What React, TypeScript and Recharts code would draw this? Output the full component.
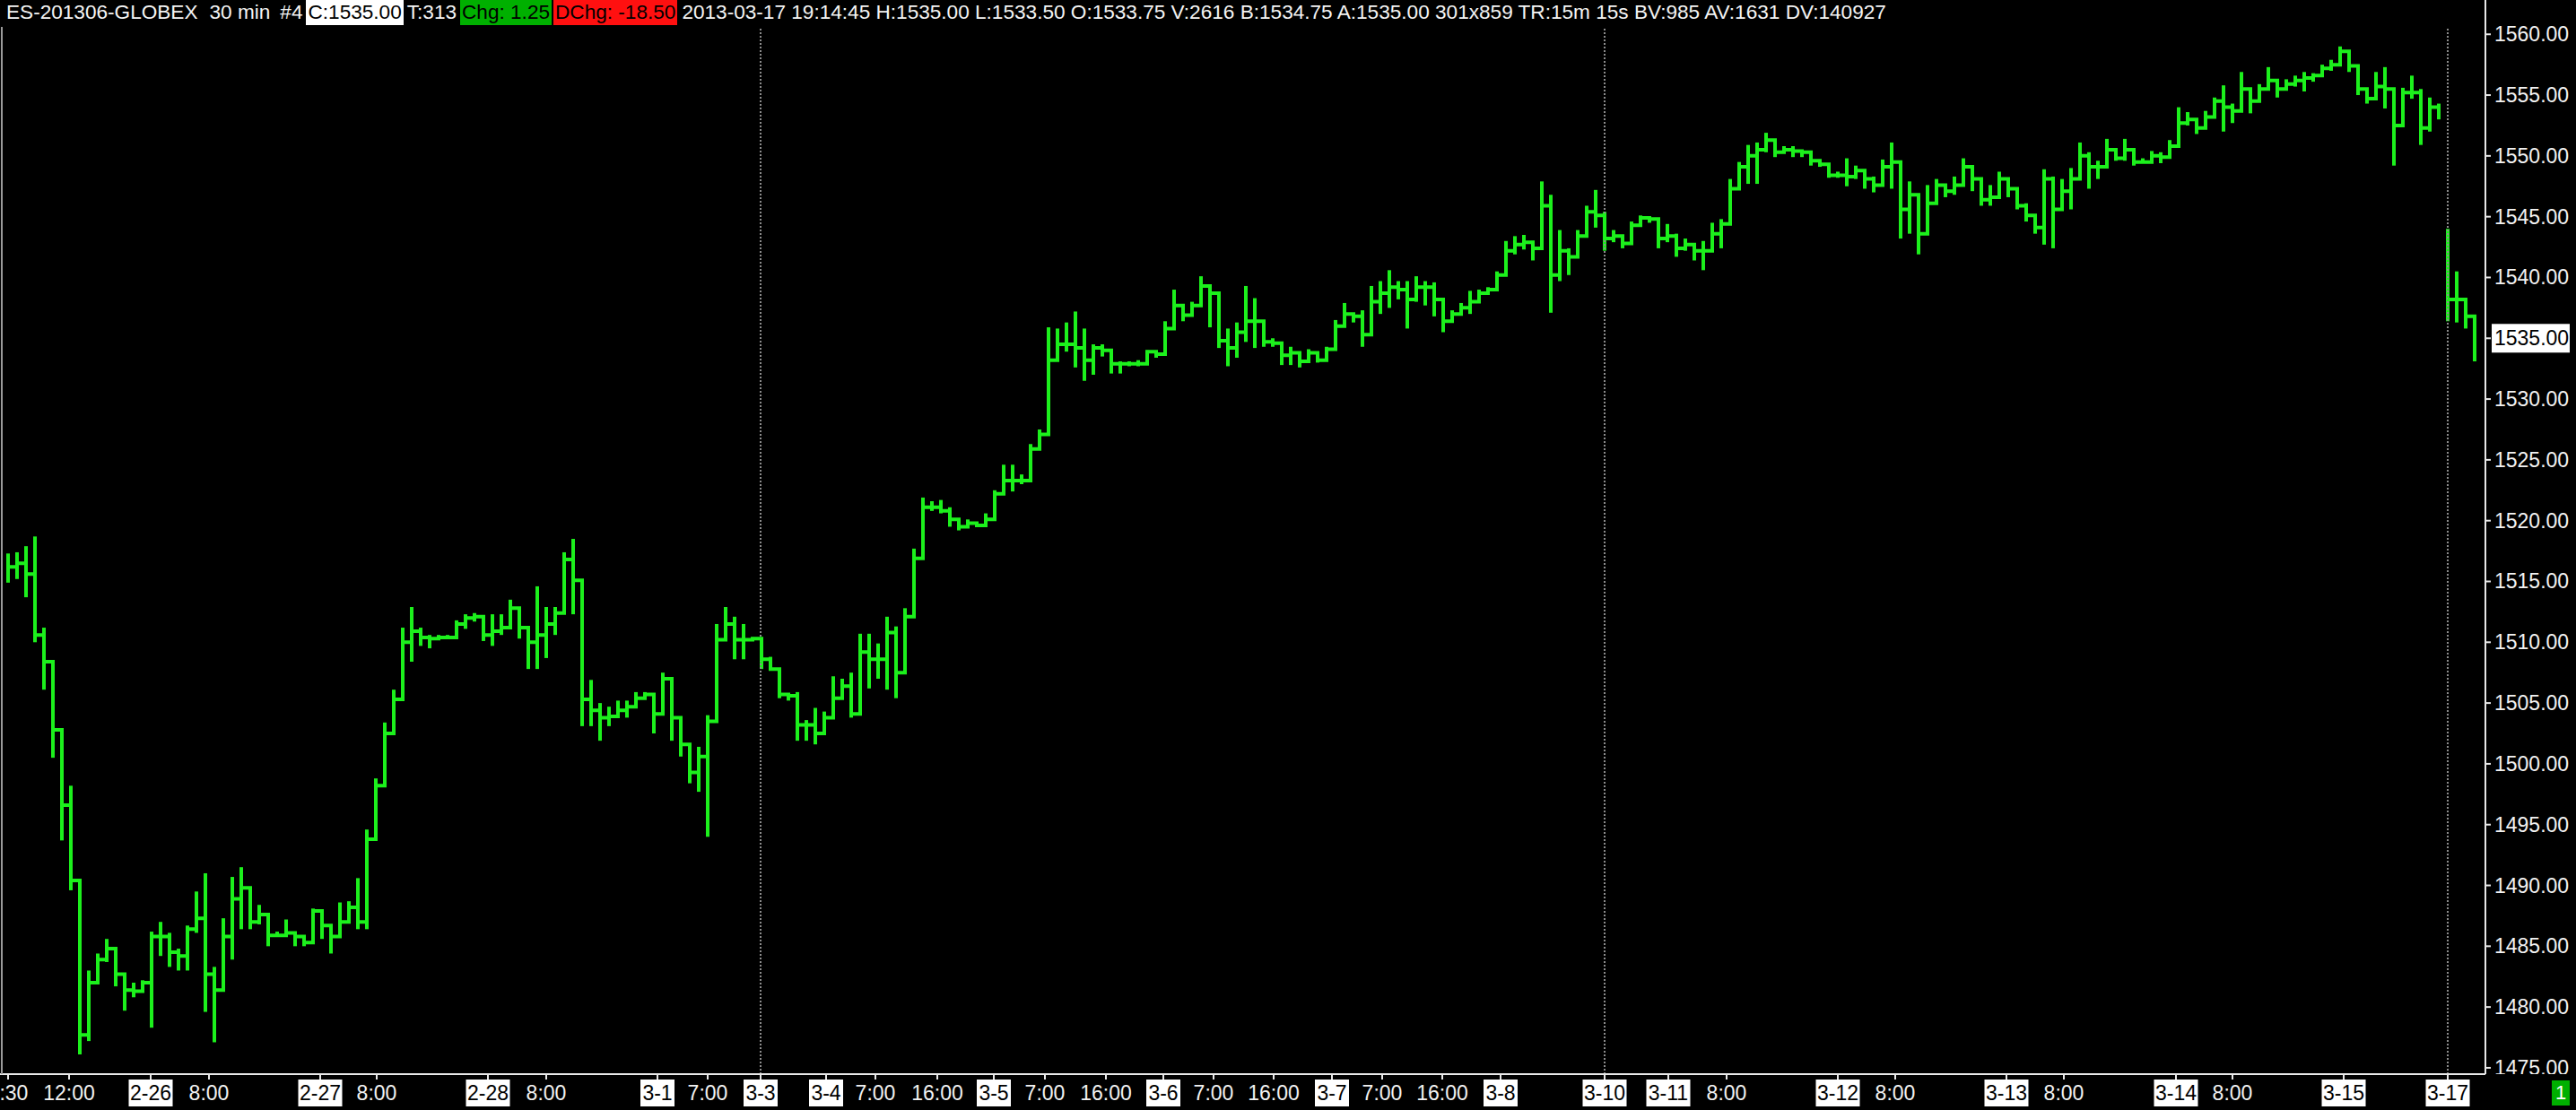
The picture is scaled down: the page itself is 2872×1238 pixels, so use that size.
import React from "react";
import { ComposedChart, Bar, Line, XAxis, YAxis, ReferenceLine } from "recharts";

// ES-201306 30 min bars (one entry per ~2.5 bars)
const highs = [
  1517.3, 1517.4, 1517.9, 1518.7, 1511.2, 1506.5, 1498.5, 1498.2, 1482.0, 1483.0,
  1484.4, 1485.6, 1484.2, 1481.9, 1482.0, 1482.2, 1486.2, 1487.0, 1486.1, 1484.8,
  1486.7, 1489.5, 1491.0, 1483.3, 1487.3, 1490.7, 1491.5, 1487.6, 1488.4, 1486.8,
  1486.2, 1487.2, 1486.1, 1485.8, 1488.1, 1487.9, 1486.8, 1488.6, 1488.7, 1490.6,
  1494.6, 1498.8, 1503.4, 1506.1, 1511.2, 1512.9, 1511.2, 1510.6, 1510.6, 1510.6,
  1511.8, 1512.3, 1512.4, 1512.1, 1512.3, 1512.3, 1513.5, 1512.9, 1511.2, 1514.6,
  1512.9, 1512.9, 1517.4, 1518.5, 1507.2, 1506.9, 1505.0, 1504.7, 1505.2, 1505.2,
  1505.9, 1505.9, 1505.1, 1507.5, 1505.4, 1502.5, 1500.8, 1501.4, 1504.0, 1511.5,
  1512.9, 1512.1, 1511.5, 1510.4, 1509.6, 1508.8, 1506.2, 1505.7, 1505.9, 1503.6,
  1504.6, 1504.3, 1507.2, 1507.0, 1507.5, 1510.7, 1510.7, 1509.9, 1512.1, 1511.3,
  1512.8, 1517.7, 1521.9, 1521.6, 1521.7, 1521.1, 1519.8, 1520.1, 1519.8, 1520.6,
  1522.5, 1524.6, 1524.6, 1523.8, 1526.3, 1527.5, 1535.9, 1535.8, 1536.3, 1537.2,
  1535.8, 1534.5, 1534.5, 1533.7, 1533.1, 1533.1, 1533.2, 1534.0, 1533.9, 1536.4,
  1539.0, 1537.4, 1538.0, 1540.1, 1539.3, 1536.1, 1535.8, 1536.3, 1539.3, 1538.3,
  1535.0, 1535.0, 1534.1, 1534.3, 1533.6, 1534.1, 1533.6, 1534.3, 1536.5, 1537.9,
  1537.0, 1537.3, 1539.3, 1539.7, 1540.6, 1539.7, 1539.7, 1540.1, 1539.7, 1539.6,
  1537.3, 1537.3, 1537.9, 1538.9, 1539.0, 1539.2, 1540.5, 1543.0, 1543.4, 1543.5,
  1543.0, 1547.9, 1546.8, 1543.9, 1542.4, 1543.9, 1545.9, 1547.2, 1545.4, 1543.9,
  1543.2, 1544.6, 1545.1, 1544.9, 1544.3, 1544.4, 1543.6, 1543.2, 1542.7, 1543.0,
  1544.5, 1544.8, 1548.1, 1549.5, 1550.9, 1551.1, 1551.9, 1550.8, 1550.8, 1550.8,
  1550.5, 1550.0, 1549.7, 1548.9, 1548.7, 1549.8, 1549.2, 1548.8, 1548.3, 1549.7,
  1551.1, 1548.7, 1547.9, 1545.6, 1547.6, 1548.1, 1547.6, 1548.3, 1549.8, 1549.1,
  1547.1, 1547.6, 1548.7, 1548.1, 1546.6, 1546.1, 1544.6, 1548.9, 1548.3, 1548.1,
  1549.0, 1551.1, 1550.3, 1549.6, 1551.4, 1550.4, 1551.4, 1550.0, 1549.8, 1550.4,
  1550.3, 1551.3, 1554.0, 1553.6, 1552.9, 1553.7, 1554.8, 1555.8, 1554.3, 1556.9,
  1555.2, 1555.9, 1557.3, 1556.2, 1556.3, 1556.6, 1556.9, 1556.8, 1557.5, 1557.9,
  1559.0, 1558.0, 1555.9, 1555.2, 1556.9, 1557.3, 1553.5, 1555.6, 1556.6, 1555.5,
  1554.8, 1554.3, 1544.0, 1540.5, 1537.8, 1535.3,
];

const lows = [
  1514.9, 1515.2, 1513.7, 1510.0, 1506.1, 1500.5, 1493.7, 1489.6, 1476.1, 1477.2,
  1482.7, 1483.7, 1481.7, 1479.7, 1480.8, 1481.7, 1478.3, 1484.2, 1483.3, 1483.0,
  1483.0, 1486.1, 1479.6, 1477.1, 1482.7, 1483.9, 1486.4, 1486.4, 1486.8, 1485.0,
  1485.8, 1485.8, 1485.0, 1485.0, 1485.3, 1485.6, 1484.4, 1485.8, 1487.6, 1486.4,
  1486.4, 1497.2, 1498.2, 1504.4, 1508.6, 1508.4, 1509.7, 1509.5, 1510.3, 1510.3,
  1510.6, 1511.1, 1511.7, 1510.1, 1509.7, 1510.6, 1511.8, 1510.3, 1507.8, 1507.8,
  1508.7, 1510.6, 1515.6, 1512.3, 1503.1, 1503.1, 1501.9, 1503.1, 1503.8, 1503.8,
  1505.1, 1505.4, 1502.5, 1505.4, 1501.9, 1500.6, 1498.4, 1497.7, 1494.0, 1506.7,
  1510.5, 1508.6, 1508.6, 1510.2, 1507.8, 1507.8, 1505.4, 1505.2, 1501.9, 1501.9,
  1501.6, 1503.3, 1505.1, 1505.4, 1503.8, 1508.8, 1506.2, 1507.0, 1506.1, 1505.4,
  1511.2, 1515.0, 1518.4, 1520.8, 1520.6, 1519.5, 1519.2, 1519.5, 1519.5, 1519.8,
  1520.9, 1522.7, 1522.4, 1523.0, 1525.4, 1526.5, 1529.7, 1533.7, 1533.9, 1532.6,
  1531.5, 1532.0, 1533.5, 1532.1, 1532.1, 1532.7, 1532.7, 1533.5, 1533.4, 1534.2,
  1536.4, 1536.4, 1537.4, 1538.8, 1535.9, 1534.2, 1532.7, 1533.4, 1534.7, 1534.2,
  1534.3, 1534.3, 1532.8, 1532.8, 1532.6, 1533.6, 1533.0, 1533.3, 1535.3, 1536.3,
  1536.3, 1534.3, 1535.8, 1537.0, 1537.5, 1538.2, 1535.8, 1538.0, 1537.7, 1536.8,
  1535.5, 1536.5, 1537.0, 1537.0, 1538.2, 1538.6, 1539.5, 1540.9, 1541.9, 1542.3,
  1541.4, 1542.9, 1537.1, 1539.7, 1540.2, 1542.9, 1544.4, 1544.1, 1542.2, 1542.9,
  1542.4, 1543.6, 1544.6, 1544.5, 1542.4, 1542.9, 1541.7, 1542.2, 1541.4, 1540.6,
  1542.4, 1542.4, 1546.6, 1548.3, 1547.7, 1547.7, 1550.3, 1549.9, 1550.3, 1549.9,
  1549.9, 1549.2, 1549.1, 1548.2, 1548.2, 1547.5, 1548.1, 1547.3, 1547.0, 1547.6,
  1547.3, 1543.2, 1543.6, 1541.9, 1543.6, 1546.6, 1546.6, 1546.8, 1548.7, 1547.1,
  1545.9, 1545.9, 1547.1, 1546.6, 1545.6, 1544.6, 1543.6, 1542.7, 1542.4, 1545.6,
  1545.6, 1548.6, 1547.3, 1548.1, 1549.4, 1549.6, 1549.6, 1549.2, 1549.4, 1549.6,
  1549.4, 1550.3, 1552.0, 1552.5, 1551.8, 1552.7, 1553.7, 1552.0, 1552.7, 1554.6,
  1553.5, 1555.0, 1555.5, 1554.8, 1555.5, 1555.7, 1555.3, 1556.1, 1556.8, 1557.0,
  1557.7, 1556.9, 1555.0, 1554.3, 1554.7, 1553.9, 1549.2, 1554.5, 1554.7, 1550.9,
  1552.0, 1553.0, 1536.4, 1536.3, 1535.8, 1533.1,
];

const closes = [
  1516.2, 1516.5, 1515.6, 1510.6, 1508.4, 1502.8, 1496.6, 1490.4, 1477.7, 1482.0,
  1483.9, 1484.8, 1482.7, 1481.4, 1481.3, 1482.0, 1485.8, 1485.8, 1484.5, 1484.2,
  1486.4, 1487.3, 1482.7, 1481.4, 1485.8, 1488.9, 1489.8, 1487.0, 1487.6, 1485.9,
  1485.9, 1486.1, 1485.8, 1485.3, 1487.9, 1486.7, 1485.8, 1487.0, 1488.2, 1487.0,
  1493.8, 1498.2, 1502.5, 1505.3, 1510.0, 1510.9, 1510.4, 1510.3, 1510.4, 1510.4,
  1511.5, 1512.0, 1512.1, 1510.6, 1510.9, 1511.2, 1512.8, 1511.2, 1510.0, 1510.6,
  1511.5, 1512.4, 1516.8, 1515.1, 1505.3, 1504.4, 1503.8, 1503.9, 1504.4, 1504.7,
  1505.4, 1505.7, 1504.1, 1507.0, 1503.8, 1501.6, 1499.3, 1500.6, 1503.5, 1510.2,
  1511.5, 1510.2, 1510.2, 1510.3, 1508.6, 1507.8, 1505.7, 1505.6, 1503.2, 1503.2,
  1502.5, 1503.8, 1505.4, 1506.4, 1504.1, 1509.2, 1508.6, 1508.6, 1510.8, 1507.5,
  1512.1, 1516.9, 1521.1, 1521.1, 1520.8, 1520.1, 1519.5, 1519.8, 1519.6, 1520.1,
  1522.2, 1523.3, 1523.3, 1523.3, 1525.9, 1527.1, 1533.2, 1534.5, 1534.5, 1534.2,
  1533.2, 1534.2, 1534.0, 1532.9, 1532.9, 1532.9, 1532.9, 1533.9, 1533.7, 1535.8,
  1537.7, 1536.9, 1537.7, 1539.3, 1538.7, 1534.8, 1534.2, 1535.5, 1536.4, 1536.4,
  1534.7, 1534.6, 1533.6, 1533.8, 1533.1, 1533.8, 1533.2, 1534.1, 1536.0, 1537.0,
  1536.8, 1535.3, 1538.0, 1538.7, 1539.2, 1539.0, 1538.2, 1539.2, 1539.2, 1538.2,
  1536.4, 1537.0, 1537.5, 1538.0, 1538.7, 1539.0, 1540.2, 1542.2, 1542.7, 1542.9,
  1542.4, 1545.9, 1540.2, 1542.2, 1541.7, 1543.4, 1545.4, 1545.1, 1543.2, 1543.4,
  1542.8, 1544.3, 1544.9, 1544.8, 1543.2, 1543.4, 1542.4, 1542.7, 1542.2, 1542.2,
  1543.6, 1544.4, 1547.3, 1549.1, 1550.0, 1550.5, 1551.3, 1550.3, 1550.5, 1550.4,
  1550.3, 1549.6, 1549.3, 1548.4, 1548.4, 1548.3, 1548.8, 1548.1, 1547.6, 1549.1,
  1549.5, 1545.6, 1546.8, 1543.6, 1546.1, 1547.6, 1547.1, 1547.6, 1549.1, 1548.1,
  1546.4, 1546.6, 1548.1, 1547.3, 1545.9, 1545.1, 1544.1, 1548.1, 1545.6, 1547.1,
  1548.1, 1550.0, 1549.1, 1549.1, 1550.5, 1549.8, 1550.5, 1549.5, 1549.5, 1550.0,
  1549.9, 1550.8, 1552.7, 1553.0, 1552.3, 1553.2, 1554.5, 1554.0, 1553.7, 1555.5,
  1554.5, 1555.5, 1556.2, 1555.5, 1555.9, 1556.2, 1556.4, 1556.6, 1557.2, 1557.5,
  1558.6, 1557.4, 1555.5, 1554.7, 1555.7, 1555.5, 1552.5, 1555.2, 1555.2, 1552.3,
  1554.0, 1553.5, 1538.2, 1538.2, 1536.8, 1535.0,
];

// first entry of the 3-17 session (gap, not joined to the previous close)
const sessionBreak = 272;

// time axis labels and where they fall, in entry units
const tickBars = [
  0, 6.8, 15.9, 22.4, 34.8, 41.1, 53.5, 60, 72.4, 78, 83.9, 91.2, 96.7, 103.6,
  109.9, 115.6, 122.4, 128.8, 134.4, 141.1, 147.6, 153.2, 159.9, 166.4, 178,
  185.1, 191.6, 204, 210.4, 222.8, 229.2, 241.7, 248, 260.4, 272,
];
const tickLabels = [
  "3:30", "12:00", "2-26", "8:00", "2-27", "8:00", "2-28", "8:00", "3-1", "7:00",
  "3-3", "3-4", "7:00", "16:00", "3-5", "7:00", "16:00", "3-6", "7:00", "16:00",
  "3-7", "7:00", "16:00", "3-8", "3-10", "3-11", "8:00", "3-12", "8:00", "3-13",
  "8:00", "3-14", "8:00", "3-15", "3-17",
];
// weekly session separators (3-3, 3-10, 3-17)
const weekLines = [83.9, 178, 272];

const priceTicks = [
  1475, 1480, 1485, 1490, 1495, 1500, 1505, 1510, 1515, 1520, 1525, 1530, 1535,
  1540, 1545, 1550, 1555, 1560,
];
const lastPrice = 1535;

const GREEN = "#1cf01c";
const FONT = "'Liberation Sans', Arial, sans-serif";
const Y_MIN = 1474.48;
const Y_MAX = 1562.82;

const data = closes.map((c, i) => ({
  bar: i,
  range: [lows[i], highs[i]],
  closeA: i < sessionBreak ? c : null,
  closeB: i >= sessionBreak ? c : null,
}));

function XTick(props: any) {
  const { x, y, payload } = props;
  const idx = tickBars.indexOf(payload.value);
  const label = tickLabels[idx] ?? "";
  if (label.includes("-")) {
    const w = label.length * 11 + 5;
    return (
      <g>
        <rect x={x - w / 2} y={y} width={w} height={30} fill="#ffffff" />
        <text x={x} y={y + 23} textAnchor="middle" fill="#000" fontSize={23} fontFamily={FONT}>
          {label}
        </text>
      </g>
    );
  }
  return (
    <text x={x} y={y + 23} textAnchor="middle" fill="#f2f2f2" fontSize={23} fontFamily={FONT}>
      {label}
    </text>
  );
}

function YTick(props: any) {
  const { x, y, payload } = props;
  const isLast = payload.value === lastPrice;
  return (
    <g>
      <defs>
        <clipPath id={`yc${payload.value}`}>
          <rect x={x - 20} y={0} width={120} height={1198} />
        </clipPath>
      </defs>
      {isLast && <rect x={x - 3} y={y - 16} width={87} height={32} fill="#ffffff" />}
      <text
        x={x}
        y={y + 8}
        fill={isLast ? "#000" : "#f2f2f2"}
        fontSize={23}
        fontFamily={FONT}
        clipPath={`url(#yc${payload.value})`}
      >
        {payload.value.toFixed(2)}
      </text>
    </g>
  );
}

const seg: React.CSSProperties = {
  height: 28,
  lineHeight: "28px",
  whiteSpace: "nowrap",
  color: "#f4f4f4",
};

export default function App() {
  return (
    <div
      style={{
        position: "fixed",
        left: 0,
        top: 0,
        width: 2872,
        height: 1238,
        background: "#000",
        overflow: "hidden",
      }}
    >
      <ComposedChart
        width={2872}
        height={1238}
        data={data}
        margin={{ top: 0, right: 0, bottom: 0, left: 0 }}
      >
        <XAxis
          dataKey="bar"
          type="number"
          domain={[-0.9, 276.2]}
          allowDataOverflow
          ticks={tickBars}
          interval={0}
          height={40}
          axisLine={{ stroke: "#e8e8e8", strokeWidth: 2 }}
          tickLine={{ stroke: "#e8e8e8", strokeWidth: 2 }}
          tickSize={6}
          tickMargin={0}
          tick={<XTick />}
        />
        <YAxis
          orientation="right"
          type="number"
          domain={[Y_MIN, Y_MAX]}
          allowDataOverflow
          ticks={priceTicks}
          interval={0}
          width={101}
          axisLine={{ stroke: "#e8e8e8", strokeWidth: 2 }}
          tickLine={{ stroke: "#e8e8e8", strokeWidth: 2 }}
          tickSize={6}
          tickMargin={4}
          tick={<YTick />}
        />
        {weekLines.map((b) => (
          <ReferenceLine
            key={b}
            segment={[
              { x: b, y: Y_MIN },
              { x: b, y: 1560.6 },
            ]}
            stroke="#8c8c8c"
            strokeWidth={2}
            strokeDasharray="2 2"
          />
        ))}
        <Bar dataKey="range" barSize={4} fill={GREEN} isAnimationActive={false} />
        <Line
          type="stepAfter"
          dataKey="closeA"
          stroke={GREEN}
          strokeWidth={4}
          dot={false}
          activeDot={false}
          connectNulls={false}
          isAnimationActive={false}
        />
        <Line
          type="stepAfter"
          dataKey="closeB"
          stroke={GREEN}
          strokeWidth={4}
          dot={false}
          activeDot={false}
          connectNulls={false}
          isAnimationActive={false}
        />
      </ComposedChart>

      {/* left frame edge */}
      <div style={{ position: "absolute", left: 1, top: 30, width: 2, height: 1168, background: "#9a9a9a" }} />

      {/* header strip */}
      <div
        style={{
          position: "absolute",
          left: 7,
          top: 0,
          display: "flex",
          fontSize: 22.6,
          fontFamily: FONT,
        }}
      >
        <span style={seg}>ES-201306-GLOBEX</span>
        <span style={{ ...seg, marginLeft: 13 }}>30 min</span>
        <span style={{ ...seg, marginLeft: 11 }}>#4</span>
        <span style={{ ...seg, marginLeft: 4, background: "#fff", color: "#000", padding: "0 2px" }}>C:1535.00</span>
        <span style={{ ...seg, marginLeft: 4 }}>T:313</span>
        <span style={{ ...seg, marginLeft: 4, background: "#00b000", color: "#000", padding: "0 2px" }}>Chg: 1.25</span>
        <span style={{ ...seg, marginLeft: 2, background: "#ff1010", color: "#000", padding: "0 2px" }}>DChg: -18.50</span>
        <span style={{ ...seg, marginLeft: 5 }}>
          2013-03-17 19:14:45 H:1535.00 L:1533.50 O:1533.75 V:2616 B:1534.75 A:1535.00 301x859 TR:15m 15s BV:985 AV:1631 DV:140927
        </span>
      </div>

      {/* pane number */}
      <div
        style={{
          position: "absolute",
          left: 2845,
          top: 1205,
          width: 20,
          height: 28,
          lineHeight: "28px",
          background: "#00b000",
          color: "#fff",
          fontSize: 22,
          fontFamily: FONT,
          textAlign: "center",
        }}
      >
        1
      </div>
    </div>
  );
}
